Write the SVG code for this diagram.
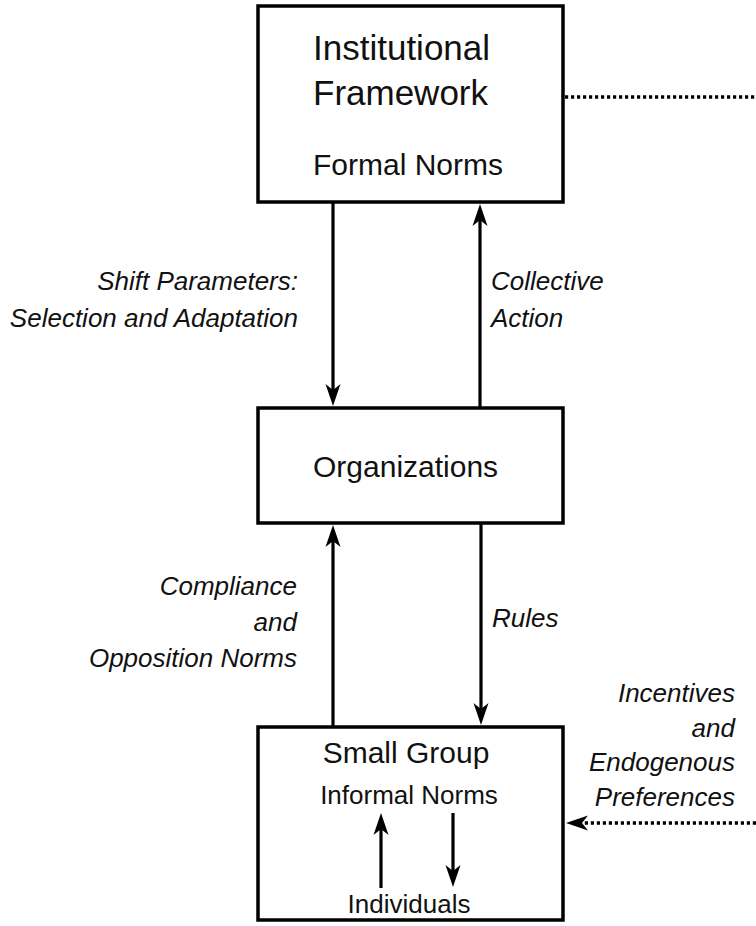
<svg xmlns="http://www.w3.org/2000/svg" width="756" height="926" viewBox="0 0 756 926">
<defs>
<style>
.box{fill:#fff;stroke:#000;stroke-width:3.5}
.t{font-family:"Liberation Sans",Arial,Helvetica,sans-serif;fill:#111}
.lab{font-family:"Liberation Sans",Arial,Helvetica,sans-serif;font-style:italic;font-size:26px;fill:#111}
.ln{stroke:#000;stroke-width:3.2;fill:none}
.dot{stroke:#000;stroke-width:3.4;fill:none;stroke-dasharray:3.2 2.8}
</style>
<marker id="ah" markerUnits="userSpaceOnUse" viewBox="-24 -9 26 18" markerWidth="26" markerHeight="18" refX="-10" refY="0" orient="auto" overflow="visible">
<path d="M0,0 L-22,-7.5 L-16,0 L-22,7.5 Z" fill="#000"/>
</marker>
</defs>
<rect width="756" height="926" fill="#fff"/>

<g id="institutional">
<rect class="box" x="258" y="6" width="305" height="196"/>
<text class="t" x="313" y="60" font-size="35">Institutional</text>
<text class="t" x="313" y="105" font-size="35">Framework</text>
<text class="t" x="313" y="175" font-size="30">Formal Norms</text>
</g>

<g id="organizations">
<rect class="box" x="258" y="408" width="305" height="115"/>
<text class="t" x="313" y="477" font-size="30">Organizations</text>
</g>

<g id="smallgroup">
<rect class="box" x="258" y="727" width="305" height="193"/>
<text class="t" x="406" y="763" font-size="30" text-anchor="middle">Small Group</text>
<text class="t" x="409" y="804" font-size="26" text-anchor="middle">Informal Norms</text>
<text class="t" x="409" y="913" font-size="26" text-anchor="middle">Individuals</text>
</g>

<g id="connectors">
<line class="ln" x1="333" y1="202" x2="333" y2="396" marker-end="url(#ah)"/>
<line class="ln" x1="480" y1="408" x2="480" y2="214" marker-end="url(#ah)"/>
<line class="ln" x1="333" y1="727" x2="333" y2="535" marker-end="url(#ah)"/>
<line class="ln" x1="481" y1="523" x2="481" y2="715" marker-end="url(#ah)"/>
<line class="ln" x1="381" y1="888" x2="381" y2="823" stroke-width="3.6" marker-end="url(#ah)"/>
<line class="ln" x1="453" y1="813" x2="453" y2="877" stroke-width="3.6" marker-end="url(#ah)"/>
<line class="dot" x1="565" y1="97" x2="756" y2="97"/>
<line class="dot" x1="756" y1="823" x2="576" y2="823" marker-end="url(#ah)"/>
</g>

<g id="labels">
<text class="lab" x="298" y="290" text-anchor="end">Shift Parameters:</text>
<text class="lab" x="298" y="327" text-anchor="end">Selection and Adaptation</text>
<text class="lab" x="491" y="290">Collective</text>
<text class="lab" x="491" y="327">Action</text>
<text class="lab" x="297" y="595" text-anchor="end">Compliance</text>
<text class="lab" x="297" y="631" text-anchor="end">and</text>
<text class="lab" x="297" y="667" text-anchor="end">Opposition Norms</text>
<text class="lab" x="492" y="627">Rules</text>
<text class="lab" x="735" y="702" text-anchor="end">Incentives</text>
<text class="lab" x="735" y="737" text-anchor="end">and</text>
<text class="lab" x="735" y="771" text-anchor="end">Endogenous</text>
<text class="lab" x="735" y="806" text-anchor="end">Preferences</text>
</g>
</svg>
